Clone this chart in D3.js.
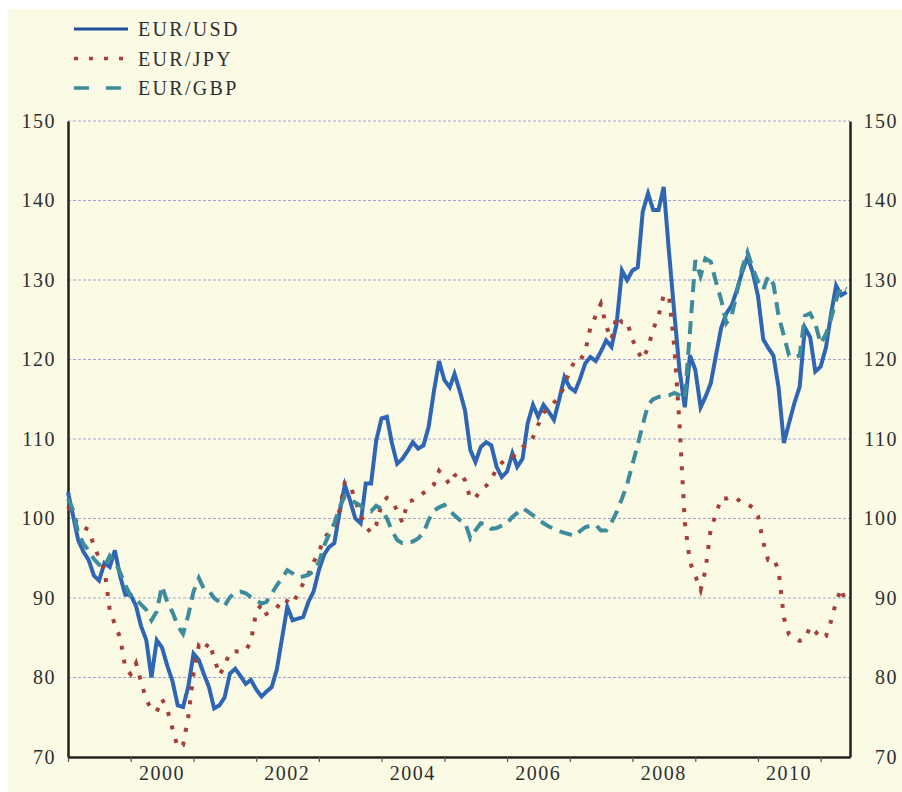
<!DOCTYPE html>
<html>
<head>
<meta charset="utf-8">
<script src="https://cdn.jsdelivr.net/npm/d3@7"></script>
<style>
  html, body { margin: 0; padding: 0; background: #ffffff; }
  svg text { font-family: "Liberation Serif", "Times New Roman", serif; fill: #2f2f2f; }
</style>
</head>
<body>
<div id="chart"></div>
<script>
// monthly data, Jan 1999 - Jun 2011 (index, 1999 Q1 ~ 100)
const startMonth = new Date(1999, 0, 1);
const endMonth = new Date(2011, 6, 1);

const eurUsd = [
  103.3, 100.2, 97.3, 95.8, 94.8, 92.8, 92.2, 94.4, 93.9, 96.0,
  92.7, 90.4, 90.4, 89.0, 86.5, 84.7, 80.0, 84.7, 83.8, 81.5,
  79.5, 76.5, 76.3, 78.8, 83.0, 82.2, 80.5, 78.8, 76.1, 76.5,
  77.5, 80.5, 81.1, 80.2, 79.2, 79.7, 78.5, 77.6, 78.2, 78.8,
  81.0, 85.0, 88.9, 87.2, 87.4, 87.6, 89.5, 90.8, 93.5, 95.5,
  96.4, 96.9, 100.7, 104.2, 102.3, 100.0, 99.4, 104.4, 104.4, 109.8,
  112.6, 112.8, 109.5, 106.9, 107.5, 108.5, 109.6, 108.8, 109.2, 111.5,
  116.0, 119.8, 117.4, 116.5, 118.2, 116.0, 113.6, 108.6, 107.1, 109.0,
  109.6, 109.2, 106.5, 105.2, 105.9, 108.2, 106.5, 107.5, 112.0, 114.3,
  112.8, 114.3, 113.4, 112.4, 115.0, 117.8, 116.5, 116.0, 117.5, 119.5,
  120.3, 119.8, 121.0, 122.4, 121.6, 124.5, 131.2, 130.0, 131.2, 131.6,
  138.6, 140.9, 138.8, 138.8, 141.7, 133.5, 125.8, 118.7, 114.0, 120.5,
  118.7, 114.0, 115.3, 117.0, 120.5, 124.0, 125.8, 126.8, 128.8, 131.0,
  132.9, 131.0, 128.0, 122.5, 121.5, 120.5, 116.5, 109.5, 112.0, 114.5,
  116.6, 124.0, 122.8, 118.5, 119.1, 121.5, 125.5, 129.3, 128.1, 128.5
];

const eurJpy = [
  101.5, 100.4, 99.2, 98.9, 98.6, 96.6, 95.0, 93.6, 88.5, 86.7,
  85.0, 81.2, 80.4, 81.8, 79.5, 77.2, 76.0, 75.7, 77.3, 76.0,
  73.5, 71.2, 71.5, 75.0, 80.5, 84.0, 83.4, 84.4, 82.5, 80.3,
  81.5, 83.2, 83.3, 83.2, 83.4, 84.5, 88.3, 89.2, 88.0, 88.3,
  88.7, 89.9, 89.6, 89.2, 90.6, 91.8, 93.0, 94.5, 95.8, 97.5,
  98.3, 98.9, 101.0, 104.5, 104.3, 102.3, 100.4, 99.0, 98.2, 99.2,
  101.8, 102.6, 102.2, 101.0, 99.5, 102.1, 102.3, 102.8, 103.2, 103.6,
  104.3, 106.0, 105.2, 104.3, 105.4, 105.8, 104.8, 102.5, 102.6, 103.6,
  104.1, 104.9, 106.3, 107.0, 107.6, 107.7, 108.4, 109.0, 109.2, 110.2,
  111.8, 113.3, 114.0, 114.6, 115.2, 116.8, 118.6, 119.9, 119.8, 121.0,
  124.0, 125.5, 127.0, 124.2, 122.5, 125.5, 124.7, 124.8, 122.5, 121.0,
  120.0, 121.5, 123.8, 125.5, 128.1, 128.0, 121.5, 112.0, 99.5, 94.5,
  92.8, 91.0, 93.5, 98.7, 100.5, 102.6, 102.5, 102.8, 102.5, 101.9,
  101.8, 101.4, 100.3, 97.0, 94.8, 95.0, 93.5, 87.5, 85.4, 85.0,
  84.6, 84.8, 86.4, 85.8, 84.9, 85.2, 87.0, 89.5, 91.2, 89.0
];

const eurGbp = [
  102.5, 101.0, 98.2, 96.8, 96.0, 94.9, 94.2, 93.9, 95.3, 94.5,
  93.2, 91.6, 90.3, 89.8, 89.2, 88.5, 87.2, 88.3, 91.5, 89.5,
  88.2, 86.5, 85.5, 87.8, 90.8, 92.5, 91.2, 90.9, 90.0, 89.5,
  89.0, 90.1, 90.7, 90.8, 90.6, 90.1, 89.7, 89.3, 89.5, 90.5,
  91.6, 92.5, 93.5, 93.1, 92.6, 92.7, 92.9, 93.4, 94.5, 96.6,
  98.0, 99.4, 101.4, 102.8, 102.3, 102.0, 101.6, 101.2, 100.9, 101.6,
  101.2, 100.0, 98.5, 97.3, 96.9, 97.0, 97.1, 97.5, 98.2, 99.8,
  101.0, 101.4, 101.7, 101.0, 100.4, 99.8, 99.5, 97.5, 98.5, 99.4,
  99.3, 98.7, 98.8, 99.1, 99.4, 100.2, 100.7, 101.3, 100.9, 100.4,
  99.9, 99.4, 99.0, 98.7, 98.4, 98.2, 98.0, 97.8, 98.4, 98.9,
  99.1, 99.2, 98.5, 98.5, 99.5, 100.8, 102.5, 104.3, 106.8, 109.3,
  111.8, 114.3, 115.0, 115.3, 115.4, 115.5, 115.8, 115.5, 115.0, 123.5,
  132.5, 130.5, 132.7, 132.3, 129.8, 127.5, 124.6, 125.5, 128.5, 131.5,
  133.5, 131.5, 129.8, 128.8, 130.5, 129.5, 125.5, 123.0, 120.5, 120.3,
  120.5, 125.5, 125.8, 124.5, 122.0, 123.2, 125.0, 127.5, 129.2, 128.9
];

const seriesNames = ["EUR/USD", "EUR/JPY", "EUR/GBP"];
const yTicks = [70, 80, 90, 100, 110, 120, 130, 140, 150];
const yearLabels = [2000, 2002, 2004, 2006, 2008, 2010];

const months = d3.timeMonth.range(startMonth, endMonth);

const styles = [
  { color: "#2f66b3", dash: null },
  { color: "#a63f37", dash: "4,10" },
  { color: "#3d8b9b", dash: "13,8" }
];

const W = 902, H = 792;
const plot = { left: 68, right: 850, top: 121, bottom: 757 };

const svg = d3.select("#chart")
  .append("svg")
    .attr("width", W)
    .attr("height", H);

// cream paper background
svg.append("rect")
  .attr("x", 8).attr("y", 9)
  .attr("width", W - 8).attr("height", H - 9)
  .attr("fill", "#fafae5");

const x = d3.scaleTime()
  .domain([startMonth, new Date(2011, 5, 21)])
  .range([plot.left, plot.right]);

const y = d3.scaleLinear()
  .domain([70, 150])
  .range([plot.bottom, plot.top]);

// dashed horizontal gridlines
svg.append("g")
  .selectAll("line")
  .data(yTicks.filter(d => d > 70))
  .join("line")
    .attr("x1", plot.left).attr("x2", plot.right)
    .attr("y1", d => y(d)).attr("y2", d => y(d))
    .attr("stroke", "#9ea6cf")
    .attr("stroke-width", 1)
    .attr("stroke-dasharray", "3,2");

// bottom axis, ticks at each January
const xAxis = svg.append("g")
  .attr("transform", `translate(0,${plot.bottom})`)
  .call(d3.axisBottom(x)
    .tickValues(d3.timeYear.range(startMonth, new Date(2012, 0, 1)))
    .tickSize(5)
    .tickSizeOuter(0)
    .tickFormat(""));
xAxis.select(".domain").attr("stroke", "#222").attr("stroke-width", 2.5);
xAxis.selectAll(".tick line").attr("stroke", "#555").attr("stroke-width", 1.2);

// year labels centred in the middle of each year
svg.append("g")
  .selectAll("text")
  .data(yearLabels)
  .join("text")
    .attr("x", d => x(new Date(d, 6, 1)))
    .attr("y", 780)
    .attr("text-anchor", "middle")
    .attr("font-size", 20)
    .attr("letter-spacing", 1.5)
    .text(d => d);

// left / right value axes
const yLeft = svg.append("g")
  .attr("transform", `translate(${plot.left},0)`)
  .call(d3.axisLeft(y).tickValues(yTicks).tickSize(0).tickPadding(12));
const yRight = svg.append("g")
  .attr("transform", `translate(${plot.right},0)`)
  .call(d3.axisRight(y).tickValues(yTicks).tickSize(0).tickPadding(48));

[yLeft, yRight].forEach(g => {
  g.select(".domain").attr("stroke", "#222").attr("stroke-width", 2.5);
  g.selectAll("text")
    .attr("font-size", 20)
    .attr("letter-spacing", 1.5)
    .attr("font-family", "Liberation Serif, serif")
    .attr("fill", "#2f2f2f");
});
yRight.selectAll("text").attr("text-anchor", "end");

// series lines
const line = d3.line()
  .x((d, i) => x(months[i]))
  .y(d => y(d));

[eurUsd, eurJpy, eurGbp].forEach((values, k) => {
  svg.append("path")
    .datum(values)
    .attr("fill", "none")
    .attr("stroke", styles[k].color)
    .attr("stroke-width", 4)
    .attr("stroke-linejoin", "miter")
    .attr("stroke-dasharray", styles[k].dash)
    .attr("d", line);
});

// legend
const legend = svg.append("g");
seriesNames.forEach((name, k) => {
  const ly = 29 + k * 29.5;
  legend.append("line")
    .attr("x1", 74).attr("x2", 128)
    .attr("y1", ly).attr("y2", ly)
    .attr("stroke", k === 0 ? "#1f4f9c" : styles[k].color)
    .attr("stroke-width", k === 0 ? 3 : 3.5)
    .attr("stroke-dasharray", k === 1 ? "4,11" : (k === 2 ? "15,17" : null));
  legend.append("text")
    .attr("x", 138)
    .attr("y", ly + 7)
    .attr("font-size", 20)
    .attr("letter-spacing", 2.3)
    .text(name);
});
</script>
</body>
</html>
